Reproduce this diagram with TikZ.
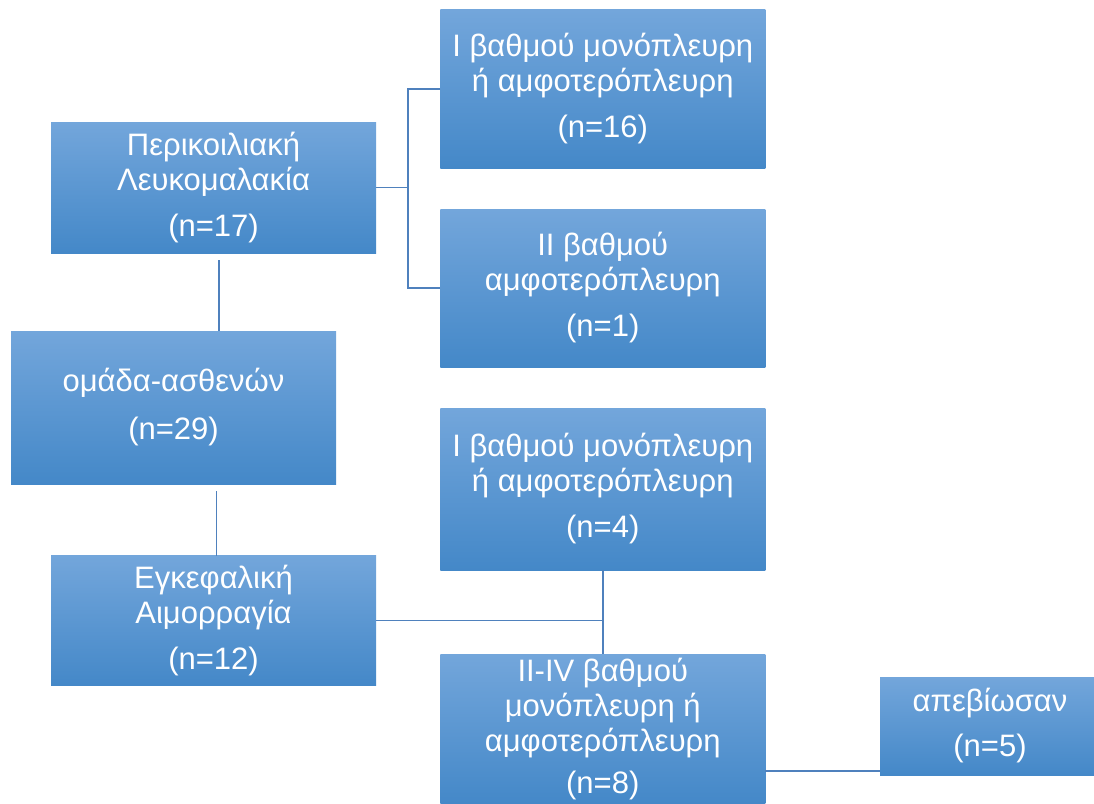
\documentclass[tikz,border=0pt]{standalone}
\usepackage{fontspec}
\setmainfont{Liberation Sans}
\definecolor{boxtop}{RGB}{115,166,219}
\definecolor{boxmid}{RGB}{84,152,219}
\definecolor{boxbot}{RGB}{68,136,200}
\definecolor{linkcol}{RGB}{79,129,189}
\newcommand{\cnt}[2][11pt]{\\[#1](n=#2)}

\begin{document}
\begin{tikzpicture}[x=1pt,y=-1pt,
	box/.style={top color=boxtop,middle color=boxmid,bottom color=boxbot,text=white,align=center,
		inner sep=0pt,outer sep=0pt,minimum width=325pt,font=\fontsize{31}{35}\selectfont},
	link/.style={linkcol,line width=1.5pt}]
	\useasboundingbox (0,0) rectangle (1094,803);
	
	\node[box,minimum height=131pt] (pl) at (213.5,187.5) {Περικοιλιακή\\Λευκομαλακία\cnt{17}};
	\node[box,minimum height=153pt] (om) at (173.5,407.5) {ομάδα-ασθενών\cnt[13pt]{29}};
	\node[box,minimum height=130pt] (ea) at (213.5,620.5) {Εγκεφαλική\\Αιμορραγία\cnt{12}};
	
	\node[box,minimum height=159pt] (b1) at (602.75,89) {I βαθμού μονόπλευρη\\ή αμφοτερόπλευρη\cnt{16}};
	\node[box,minimum height=158pt] (b2) at (602.75,288) {II βαθμού\\αμφοτερόπλευρη\cnt{1}};
	\node[box,minimum height=162pt] (b3) at (602.75,489) {I βαθμού μονόπλευρη\\ή αμφοτερόπλευρη\cnt{4}};
	\node[box,minimum height=150pt] (iv) at (602.75,729) {II-IV βαθμού\\μονόπλευρη ή\\αμφοτερόπλευρη\cnt[7pt]{8}};
	\node[box,minimum height=98pt,minimum width=220pt] (ap) at (990,726) {απεβίωσαν\cnt[10pt]{5}};
	
	\draw[link] (pl.east) -- ++(32,0) coordinate (j1);
	\draw[link] (b1.west) -| (j1) |- (b2.west);
	\draw[link] ([xshift=5.5pt,yshift=-7pt]pl.south) -- ([xshift=45.5pt]om.north);
	\draw[link] ([xshift=43pt,yshift=-7pt]om.south) -- ([xshift=3pt]ea.north);
	\draw[link] (b3.south) -- (iv.north);
	\draw[link] (ea.east) -- (ea.east -| iv.north);
	\draw[link] ([yshift=-42pt]iv.east) -- ([yshift=-42pt]iv.east -| ap.west);
\end{tikzpicture}
\end{document}
